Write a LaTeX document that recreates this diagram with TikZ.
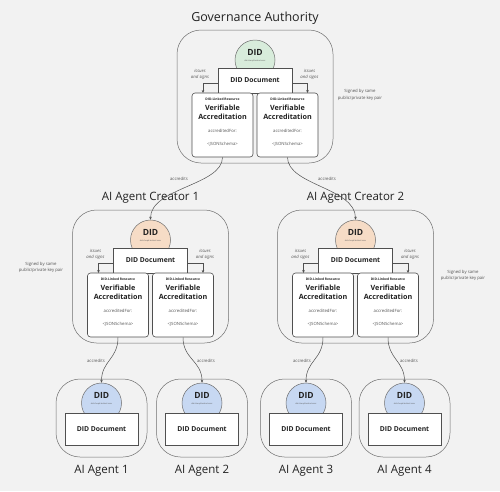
\documentclass[tikz,border=0pt]{standalone}
\usepackage{fontspec}
\setmainfont{Open Sans}
\usetikzlibrary{arrows.meta}
\definecolor{bgc}{HTML}{F2F2F2}
\definecolor{linec}{HTML}{6E6E6E}
\definecolor{darkline}{HTML}{505050}
\definecolor{txtc}{HTML}{222222}
\definecolor{softtxt}{HTML}{555555}
\definecolor{greenfill}{HTML}{D8ECDB}
\definecolor{peachfill}{HTML}{F6DCC6}
\definecolor{bluefill}{HTML}{C7D8F2}
\tikzset{
  outerbox/.style={draw=linec, line width=0.5pt, rounded corners=24pt, inner sep=0pt},
  didcirc/.style={circle, draw=linec, line width=0.5pt, minimum size=40pt, inner sep=0pt},
  docbox/.style={draw=darkline, fill=white, line width=0.6pt, inner sep=0pt, font=\fontsize{6.8}{8}\selectfont\bfseries, text=txtc},
  vabox/.style={draw=darkline, fill=white, line width=0.6pt, rounded corners=3pt, minimum width=61pt, minimum height=64pt, inner sep=0pt},
  didtxt/.style={font=\fontsize{8.5}{9}\selectfont\bfseries, text=txtc, inner sep=0pt},
  tinytxt/.style={font=\fontsize{2}{2.4}\selectfont, text=softtxt, inner sep=0pt},
  restxt/.style={font=\fontsize{3.3}{4}\selectfont\bfseries, text=txtc, inner sep=0pt},
  vatxt/.style={font=\fontsize{7.2}{9}\selectfont\bfseries, text=txtc, align=center, inner sep=0pt},
  smalltxt/.style={font=\fontsize{4.3}{5}\selectfont, text=softtxt, inner sep=0pt},
  itxt/.style={font=\fontsize{4.3}{6.2}\selectfont\itshape, text=softtxt, align=center, inner sep=0pt},
  signtxt/.style={font=\fontsize{4.3}{6.5}\selectfont, text=softtxt, align=center, inner sep=0pt},
  titletxt/.style={font=\fontsize{12.5}{14}\selectfont, text=txtc, inner sep=0pt},
  subtitletxt/.style={font=\fontsize{11.5}{13}\selectfont, text=txtc, inner sep=0pt},
  arr/.style={draw=darkline, line width=0.5pt, -{Stealth[length=3pt,width=2.6pt]}},
}
\newcommand\issuerblock[4]{%
\begin{scope}[shift={(#2,#3)}]
  \node[outerbox, minimum width=156pt, minimum height=133pt] (#1box) at (0,66.5) {};
  \node[didcirc, fill=#4] (#1did) at (0,30) {};
  \node[didtxt] (#1didl) at (0,22.5) {DID};
  \node[tinytxt] (#1didid) at (0,30.5) {did:cheqd:testnet:xxxx};
  \node[docbox, minimum width=74pt, minimum height=25pt] (#1doc) at (0,50.5) {DID Document};
  \node[vabox] (#1vaa) at (-32.5,95) {};
  \node[vabox] (#1vab) at (32.5,95) {};
  \foreach \s/\xx in {a/-32.5,b/32.5}{
    \node[restxt] (#1res\s) at (\xx,69) {DID-Linked Resource};
    \node[vatxt] (#1vt\s) at (\xx,82.5) {Verifiable\\Accreditation};
    \node[smalltxt] (#1af\s) at (\xx,101) {accreditedFor:};
    \node[smalltxt] (#1js\s) at (\xx,114) {<JSONSchema>};
  }
  \coordinate (#1ia) at (-52,63);
  \coordinate (#1ib) at (52.5,63);
  \draw[arr] ([yshift=-2.5pt]#1doc.west) -| (#1ia);
  \draw[arr] ([yshift=-2.5pt]#1doc.east) -| (#1ib);
  \node[itxt] (#1la) at (-55,44.5) {issues\\and signs};
  \node[itxt] (#1lb) at (54.5,44.5) {issues\\and signs};
\end{scope}}
\newcommand\agentblock[3]{%
\begin{scope}[shift={(#2,379)}]
  \node[outerbox, minimum width=91pt, minimum height=78pt] (#1box) at (0,39) {};
  \node[didcirc, fill=bluefill] (#1did) at (0,24) {};
  \node[didtxt] (#1didl) at (0,16.5) {DID};
  \node[tinytxt] (#1didid) at (0,24.5) {did:cheqd:testnet:xxxx};
  \node[docbox, minimum width=73pt, minimum height=32pt] (#1doc) at (0,50) {DID Document};
  \node[subtitletxt] (#1title) at (0,92) {#3};
\end{scope}}
\begin{document}
\begin{tikzpicture}[x=1pt,y=-1pt]
\fill[bgc] (0,0) rectangle (500,491);
\useasboundingbox (0,0) rectangle (500,491);
% titles
\node[titletxt] (gatitle) at (255,18) {Governance Authority};
\node[subtitletxt] (c1title) at (150.5,198) {AI Agent Creator 1};
\node[subtitletxt] (c2title) at (355.5,198) {AI Agent Creator 2};
% blocks
\issuerblock{ga}{255}{30}{greenfill}
\issuerblock{ca}{150.5}{210}{peachfill}
\issuerblock{cb}{355.5}{210}{peachfill}
\agentblock{aa}{101.5}{AI Agent 1}
\agentblock{ab}{202}{AI Agent 2}
\agentblock{ac}{306}{AI Agent 3}
\agentblock{ad}{404.5}{AI Agent 4}
% signed notes
\node[signtxt] (gasign) at (360,95) {Signed by same\\public/private key pair};
\node[signtxt] (casign) at (41,267.5) {Signed by same\\public/private key pair};
\node[signtxt] (cbsign) at (463,275.5) {Signed by same\\public/private key pair};
% accredits
\draw[arr] (gavaa.south) .. controls +(0,28) and +(0,-32) .. (cadid.north);
\draw[arr] (gavab.south) .. controls +(0,28) and +(0,-32) .. (cbdid.north);
\draw[arr] (cavaa.south) .. controls +(0,22) and +(0,-22) .. (aadid.north);
\draw[arr] (cavab.south) .. controls +(0,22) and +(0,-22) .. (abdid.north);
\draw[arr] (cbvaa.south) .. controls +(0,22) and +(0,-22) .. (acdid.north);
\draw[arr] (cbvab.south) .. controls +(0,22) and +(0,-22) .. (addid.north);
\node[smalltxt] (acc1) at (179,179) {accredits};
\node[smalltxt] (acc2) at (327,179) {accredits};
\node[smalltxt] (acc3) at (96,361) {accredits};
\node[smalltxt] (acc4) at (206,361) {accredits};
\node[smalltxt] (acc5) at (302,361) {accredits};
\node[smalltxt] (acc6) at (409,361) {accredits};
\end{tikzpicture}
\end{document}
